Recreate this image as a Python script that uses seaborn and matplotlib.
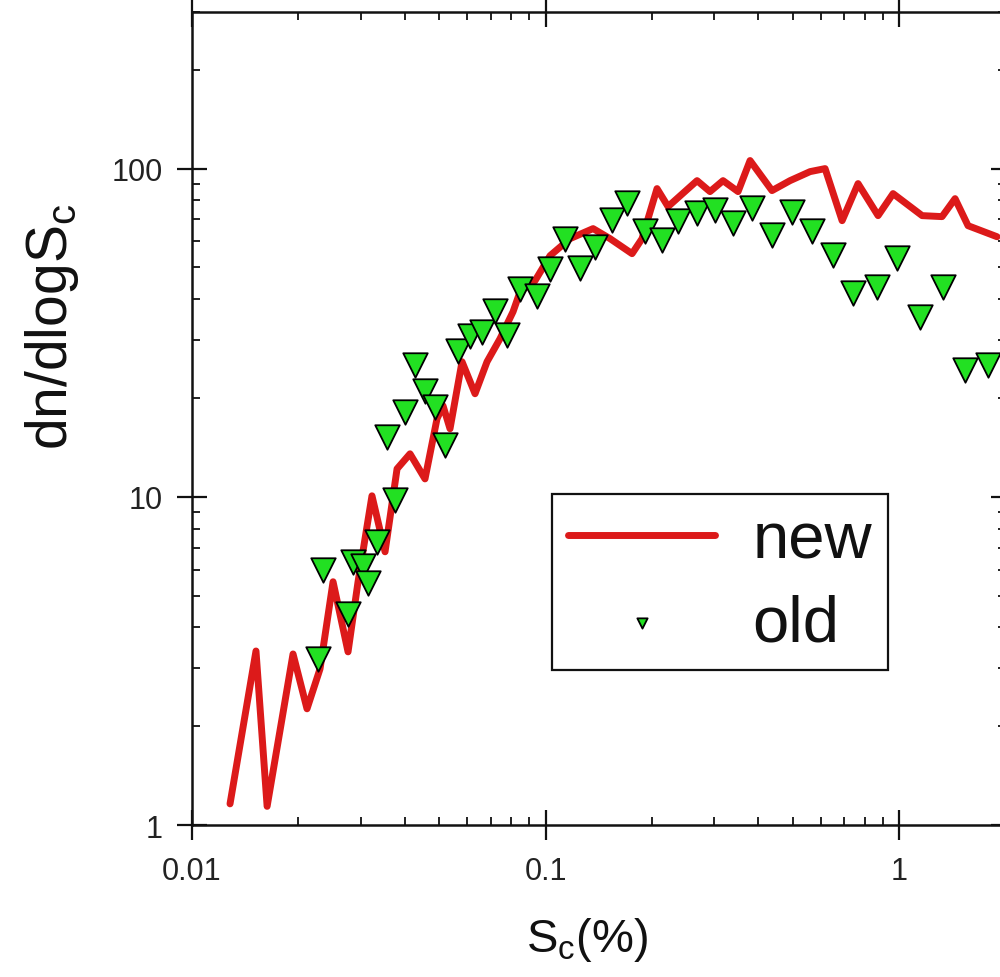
import matplotlib
matplotlib.use("Agg")
import matplotlib.pyplot as plt
from matplotlib.ticker import FixedLocator, FixedFormatter, LogLocator, NullFormatter
import seaborn as sns

# critical supersaturation (%) and dn/dlogSc for the new spectrum
new_sc = [0.01281, 0.01517, 0.01631, 0.01931, 0.02115, 0.02302, 0.02506, 0.02763,
          0.02949, 0.03229, 0.03516, 0.03802, 0.04137, 0.04561, 0.04932, 0.05129,
          0.05368, 0.05805, 0.06318, 0.06832, 0.07435, 0.08093, 0.08472, 0.09339,
          0.1030, 0.1173, 0.1363, 0.1522, 0.1757, 0.1875, 0.2067, 0.2221,
          0.2683, 0.2919, 0.3177, 0.3504, 0.3789, 0.4371, 0.4916, 0.5601,
          0.6176, 0.6901, 0.7656, 0.8722, 0.9616, 1.162, 1.323, 1.440,
          1.567, 1.893]
new_dn = [1.16, 3.39, 1.14, 3.32, 2.26, 2.99, 5.51, 3.37,
          5.51, 10.07, 6.80, 12.17, 13.52, 11.34, 17.29, 18.94,
          16.12, 25.8, 20.61, 25.8, 30.32, 36.64, 42.17, 45.55,
          54.29, 61.18, 65.64, 61.18, 55.06, 61.18, 86.9, 76.6,
          91.9, 85.1, 91.9, 85.1, 105.8, 85.7, 91.9, 97.9,
          100.0, 69.4, 90.0, 71.9, 83.9, 71.9, 71.4, 81.0,
          67.0, 62.0]

# the old spectrum
old_sc = [0.02272, 0.02348, 0.02763, 0.02853, 0.03046, 0.03148, 0.03336, 0.03753,
          0.03560, 0.04004, 0.04273, 0.04561, 0.04868, 0.05196, 0.05656, 0.06116,
          0.06613, 0.07197, 0.07782, 0.08472, 0.09462, 0.1030, 0.1135, 0.1252,
          0.1380, 0.1542, 0.1701, 0.1912, 0.2136, 0.2370, 0.2683, 0.3017,
          0.3392, 0.3839, 0.4371, 0.4980, 0.5675, 0.6506, 0.7412, 0.8665,
          0.9870, 1.147, 1.332, 1.537, 1.785]
old_dn = [3.21, 5.99, 4.40, 6.34, 6.16, 5.47, 7.29, 9.79,
          15.24, 18.16, 25.26, 21.05, 18.81, 14.40, 27.87, 30.97,
          31.85, 36.90, 31.18, 43.06, 41.00, 49.56, 61.18, 49.91,
          57.84, 69.89, 78.76, 64.71, 60.75, 69.41, 73.42, 74.99,
          68.45, 76.04, 62.93, 73.93, 64.71, 54.67, 41.88, 43.67,
          53.54, 35.38, 43.67, 24.39, 25.26]

x_ticks = [0.01, 0.1, 1]
x_tick_labels = ["0.01", "0.1", "1"]
y_ticks = [1, 10, 100]
y_tick_labels = ["1", "10", "100"]

sns.set_theme(style="white")
plt.rcParams["font.family"] = ["Liberation Sans", "DejaVu Sans"]
plt.rcParams["mathtext.fontset"] = "custom"
plt.rcParams["mathtext.rm"] = "Liberation Sans"
plt.rcParams["mathtext.it"] = "Liberation Sans:italic"

RED = "#dc1a1a"
GREEN = "#22e022"
INK = "#111111"

fig = plt.figure(figsize=(10, 9.78), dpi=100)
ax = fig.add_axes([0.192, 0.1554, 0.8135, 0.8313])
ax.set(xscale="log", yscale="log")

sns.lineplot(x=new_sc, y=new_dn, ax=ax, color=RED, linewidth=5,
             estimator=None, sort=False, label="new", zorder=2)
sns.scatterplot(x=old_sc, y=old_dn, ax=ax, marker="v", s=310, color=GREEN,
                edgecolor="black", linewidth=1.3, label="old", zorder=3)

ax.set_xlim(0.01, 2)
ax.set_ylim(1, 300)

ax.xaxis.set_major_locator(FixedLocator(x_ticks))
ax.xaxis.set_major_formatter(FixedFormatter(x_tick_labels))
ax.yaxis.set_major_locator(FixedLocator(y_ticks))
ax.yaxis.set_major_formatter(FixedFormatter(y_tick_labels))
ax.xaxis.set_minor_locator(LogLocator(base=10, subs=range(2, 10)))
ax.yaxis.set_minor_locator(LogLocator(base=10, subs=range(2, 10)))
ax.xaxis.set_minor_formatter(NullFormatter())
ax.yaxis.set_minor_formatter(NullFormatter())

for side in ["left", "right", "top", "bottom"]:
    ax.spines[side].set_visible(True)
    ax.spines[side].set_color(INK)
    ax.spines[side].set_linewidth(1.8)

ax.tick_params(which="major", direction="inout", length=22, width=1.6,
               color=INK, left=True, bottom=True, top=True, right=True,
               labelsize=22, labelcolor="#222222")
ax.tick_params(axis="x", which="major", pad=11)
ax.tick_params(axis="y", which="major", pad=10)
ax.tick_params(which="minor", direction="in", length=5.5, width=1.3,
               color=INK, left=True, bottom=True, top=True, right=True)

ax.set_xlabel(r"S$_{\mathrm{c}}$(%)", fontsize=34, color=INK)
ax.xaxis.set_label_coords(0.4856, -0.140)
ax.xaxis.label.set_verticalalignment("center")
ax.set_ylabel(r"dn/dlogS$_{\mathrm{c}}$", fontsize=41, color=INK)
ax.yaxis.set_label_coords(-0.172, 0.614)
ax.yaxis.label.set_verticalalignment("center")

leg = ax.legend(loc="upper left", bbox_to_anchor=(0.4425, 0.407), borderaxespad=0,
                fontsize=47, handlelength=2.25, handletextpad=0.57,
                labelspacing=0.35, borderpad=0.25, markerscale=0.42,
                fancybox=False, framealpha=1, edgecolor=INK)
leg.get_frame().set_linewidth(1.6)
for txt in leg.get_texts():
    txt.set_color(INK)

fig.savefig("out.png", dpi=100)
